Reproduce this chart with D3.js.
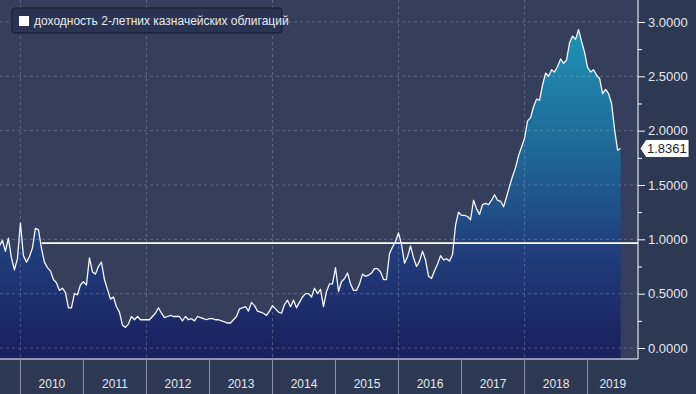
<!DOCTYPE html>
<html>
<head>
<meta charset="utf-8">
<script src="https://cdn.jsdelivr.net/npm/d3@7"></script>
<style>
body { margin: 0; background: #2e3953; }
svg { display: block; font-family: "Liberation Sans", Arial, sans-serif; }
</style>
</head>
<body>
<svg id="chart"></svg>
<script>

// yields, 21 readings per year (about every 2.5 weeks)
const y2009 = [0.94, 0.99, 0.89, 1.01, 0.83, 0.72, 0.82]; // starts at reading 14
const y2010 = [1.15, 0.85, 0.79, 0.84, 0.92, 1.10, 1.09, 0.92, 0.79, 0.74, 0.71, 0.63, 0.60, 0.53, 0.55, 0.51, 0.37, 0.37, 0.50, 0.49, 0.58];
const y2011 = [0.61, 0.58, 0.83, 0.70, 0.68, 0.75, 0.79, 0.63, 0.54, 0.45, 0.47, 0.38, 0.33, 0.21, 0.19, 0.22, 0.29, 0.26, 0.29, 0.26, 0.26];
const y2012 = [0.26, 0.26, 0.29, 0.32, 0.37, 0.32, 0.28, 0.29, 0.30, 0.29, 0.29, 0.29, 0.25, 0.29, 0.26, 0.27, 0.25, 0.29, 0.28, 0.27, 0.26];
const y2013 = [0.27, 0.27, 0.26, 0.26, 0.25, 0.24, 0.23, 0.23, 0.26, 0.29, 0.36, 0.37, 0.38, 0.34, 0.42, 0.39, 0.34, 0.33, 0.32, 0.30, 0.34];
const y2014 = [0.39, 0.36, 0.33, 0.32, 0.40, 0.44, 0.38, 0.44, 0.37, 0.42, 0.47, 0.50, 0.50, 0.47, 0.55, 0.50, 0.54, 0.38, 0.52, 0.59, 0.59];
const y2015 = [0.74, 0.52, 0.61, 0.64, 0.69, 0.59, 0.53, 0.53, 0.59, 0.68, 0.66, 0.67, 0.69, 0.73, 0.73, 0.70, 0.63, 0.63, 0.87, 0.93, 0.98];
const y2016 = [1.06, 0.95, 0.78, 0.84, 0.94, 0.83, 0.75, 0.80, 0.89, 0.81, 0.66, 0.64, 0.71, 0.77, 0.85, 0.81, 0.82, 0.80, 0.86, 1.13, 1.25];
const y2017 = [1.22, 1.22, 1.21, 1.18, 1.36, 1.28, 1.23, 1.32, 1.33, 1.32, 1.36, 1.41, 1.36, 1.35, 1.30, 1.39, 1.49, 1.58, 1.66, 1.77, 1.85];
const y2018 = [1.93, 2.09, 2.12, 2.22, 2.29, 2.28, 2.42, 2.53, 2.50, 2.56, 2.54, 2.59, 2.66, 2.62, 2.65, 2.81, 2.87, 2.84, 2.93, 2.82, 2.72];
const y2019 = [2.58, 2.54, 2.56, 2.51, 2.48, 2.34, 2.38, 2.34, 2.25, 2.01, 1.82, 1.8361];

const years = [2010, 2011, 2012, 2013, 2014, 2015, 2016, 2017, 2018, 2019];
const yTicks = [0, 0.5, 1, 1.5, 2, 2.5, 3];
const yMinor = [0.25, 0.75, 1.25, 1.75, 2.25, 2.75];
const gridYears = [2010, 2012, 2014, 2016, 2018];
const refLevel = {start: 2010.34, value: 0.965};
const lastValue = 1.8361;
const legendLabel = "доходность 2-летних казначейских облигаций";

const perYear = 21;
const series = [];
[[2009, y2009, 14], [2010, y2010, 0], [2011, y2011, 0], [2012, y2012, 0], [2013, y2013, 0],
 [2014, y2014, 0], [2015, y2015, 0], [2016, y2016, 0], [2017, y2017, 0], [2018, y2018, 0],
 [2019, y2019, 0]].forEach(([yr, vals, off]) => {
	vals.forEach((v, i) => series.push({t: yr + (off + i) / perYear, v: v}));
});

const width = 696, height = 394;
const plotRight = 638, plotBottom = 359;

const svg = d3.select("#chart")
	.attr("width", width)
	.attr("height", height);

const xScale = d3.scaleLinear().domain([2009.676, 2019.80]).range([0, plotRight]);
const yScale = d3.scaleLinear().domain([-0.101, 3.202]).range([plotBottom, 0]);

// backgrounds
svg.append("rect").attr("width", width).attr("height", height).attr("fill", "#2d3852");
svg.append("rect").attr("width", plotRight).attr("height", plotBottom).attr("fill", "#353f5b");

const defs = svg.append("defs");
const grad = defs.append("linearGradient")
	.attr("id", "fillGrad")
	.attr("gradientUnits", "userSpaceOnUse")
	.attr("x1", 0).attr("x2", 0)
	.attr("y1", yScale(0)).attr("y2", yScale(3));
grad.append("stop").attr("offset", "0%").attr("stop-color", "#1b215f");
grad.append("stop").attr("offset", "30%").attr("stop-color", "#213e7c");
grad.append("stop").attr("offset", "60%").attr("stop-color", "#1f6796");
grad.append("stop").attr("offset", "100%").attr("stop-color", "#1f94b6");

const area = d3.area()
	.x(d => xScale(d.t))
	.y0(plotBottom)
	.y1(d => yScale(d.v));

const line = d3.line()
	.x(d => xScale(d.t))
	.y(d => yScale(d.v));

svg.append("path")
	.datum(series)
	.attr("d", area)
	.attr("fill", "url(#fillGrad)");

// grid
svg.append("g")
	.selectAll("line")
	.data(yTicks).enter()
	.append("line")
	.attr("x1", 0).attr("x2", plotRight)
	.attr("y1", d => yScale(d)).attr("y2", d => yScale(d))
	.attr("stroke", "rgba(200,210,230,0.28)")
	.attr("stroke-dasharray", "3,3");

svg.append("g")
	.selectAll("line")
	.data(gridYears).enter()
	.append("line")
	.attr("x1", d => xScale(d)).attr("x2", d => xScale(d))
	.attr("y1", 0).attr("y2", plotBottom)
	.attr("stroke", "rgba(200,210,230,0.28)")
	.attr("stroke-dasharray", "3,3");

// horizontal reference level
svg.append("line")
	.attr("x1", xScale(refLevel.start)).attr("x2", plotRight)
	.attr("y1", yScale(refLevel.value)).attr("y2", yScale(refLevel.value))
	.attr("stroke", "#ffffff")
	.attr("stroke-width", 1.6);

svg.append("path")
	.datum(series)
	.attr("d", line)
	.attr("fill", "none")
	.attr("stroke", "#f4f6fb")
	.attr("stroke-width", 1.3)
	.attr("stroke-linejoin", "round");

// right axis
const yAxis = svg.append("g")
	.attr("transform", "translate(" + plotRight + ",0)")
	.call(d3.axisRight(yScale).tickValues(yTicks).tickFormat(d3.format(".4f")).tickSize(7).tickPadding(3));
yAxis.select(".domain").attr("stroke", "#ffffff").attr("d", "M0,0V" + plotBottom);
yAxis.selectAll(".tick line").attr("stroke", "#ffffff");
yAxis.selectAll("text").attr("fill", "#e4e7ef").attr("font-size", "13px").attr("font-family", "Liberation Sans, Arial");

const yMinorAxis = svg.append("g")
	.attr("transform", "translate(" + plotRight + ",0)")
	.call(d3.axisRight(yScale).tickValues(yMinor).tickFormat("").tickSize(4));
yMinorAxis.select(".domain").remove();
yMinorAxis.selectAll(".tick line").attr("stroke", "#ffffff");

// bottom axis line
svg.append("line")
	.attr("x1", 0).attr("x2", plotRight)
	.attr("y1", plotBottom).attr("y2", plotBottom)
	.attr("stroke", "#ffffff")
	.attr("stroke-width", 1.2);

// year separators and labels
const xg = svg.append("g");
xg.selectAll("line")
	.data(years).enter()
	.append("line")
	.attr("x1", d => xScale(d)).attr("x2", d => xScale(d))
	.attr("y1", plotBottom).attr("y2", height)
	.attr("stroke", "#8a93a8");

xg.selectAll("text")
	.data(years).enter()
	.append("text")
	.attr("x", d => (xScale(d) + Math.min(xScale(d + 1), plotRight)) / 2)
	.attr("y", 388)
	.attr("text-anchor", "middle")
	.attr("font-size", "12px")
	.attr("fill", "#e4e7ef")
	.text(d => d);

// last value tag
const ly = yScale(lastValue);
svg.append("path")
	.attr("d", "M" + (plotRight + 2) + "," + ly + "L" + (plotRight + 8) + "," + (ly - 9) + "H689V" + (ly + 9) + "H" + (plotRight + 8) + "Z")
	.attr("fill", "#ffffff")
	.attr("stroke", "#1c2236")
	.attr("stroke-width", 0.8);
svg.append("text")
	.attr("x", plotRight + 9)
	.attr("y", ly + 4.5)
	.attr("font-size", "13px")
	.attr("fill", "#1a1d2c")
	.text(d3.format(".4f")(lastValue));

// legend
const legend = svg.append("g").attr("class", "legend");
legend.append("rect")
	.attr("x", 12).attr("y", 8)
	.attr("width", 270).attr("height", 25)
	.attr("rx", 3)
	.attr("fill", "#2a3452")
	.attr("stroke", "#141a2c");
legend.append("rect")
	.attr("x", 19).attr("y", 16)
	.attr("width", 10).attr("height", 10)
	.attr("fill", "#ffffff");
legend.append("text")
	.attr("x", 34).attr("y", 25)
	.attr("font-size", "12px")
	.attr("fill", "#e8eaf0")
	.text(legendLabel);

</script>
</body>
</html>
